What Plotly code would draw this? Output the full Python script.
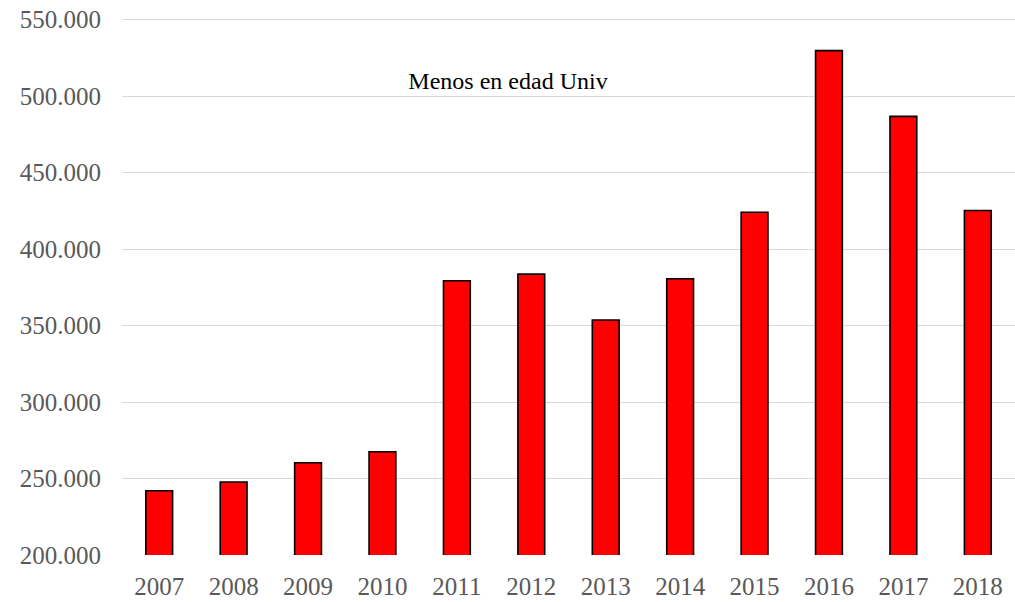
import plotly.graph_objects as go

years = ["2007", "2008", "2009", "2010", "2011", "2012", "2013", "2014", "2015", "2016", "2017", "2018"]
values = [242000, 247700, 260300, 267500, 379300, 383600, 353600, 380600, 424000, 529700, 486700, 425200]
y_ticks = [200000, 250000, 300000, 350000, 400000, 450000, 500000, 550000]
title_text = "Menos en edad Univ"

fig = go.Figure(go.Bar(
    x=years, y=values,
    marker=dict(color="#ff0000", line=dict(color="#000000", width=1.6)),
))

fig.update_layout(
    width=1015, height=602,
    margin=dict(l=122, r=0, t=18, b=47, autoexpand=False),
    paper_bgcolor="white", plot_bgcolor="white",
    bargap=0.64,
    showlegend=False,
    separators=",.",
    title=dict(text=title_text, x=508 / 1015, xanchor="center", y=1 - 81 / 602, yanchor="middle",
               yref="container",
               font=dict(family="Liberation Serif", size=24, color="#000000")),
    font=dict(family="Liberation Serif", color="#595959"),
)
fig.update_yaxes(
    range=[200000, 551000], tickvals=y_ticks, tickformat=",.0f",
    showgrid=True, gridcolor="#d9d9d9", gridwidth=1.3,
    zeroline=False, showline=False, ticks="",
    tickfont=dict(family="Liberation Serif", size=25, color="#595959"),
    ticklabelstandoff=20,
)
fig.update_xaxes(
    showgrid=False, showline=False, ticks="",
    tickfont=dict(family="Liberation Serif", size=25, color="#595959"),
    ticklabelstandoff=14,
)

fig.write_html("out.html", config={"displayModeBar": False},
               post_script="document.body.style.margin='0';")
